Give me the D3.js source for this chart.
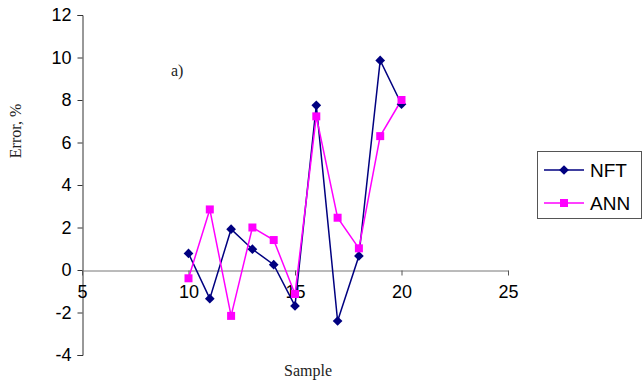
<!DOCTYPE html>
<html>
<head>
<meta charset="utf-8">
<script src="https://cdn.jsdelivr.net/npm/d3@7"></script>
<style>
    body { margin: 0; background: #fff; }
    svg { display: block; }
</style>
</head>
<body>
<div id="chart"></div>
<script>
// Error per sample, two methods
const samples = [10, 11, 12, 13, 14, 15, 16, 17, 18, 19, 20];
const nftValues = [0.78, -1.35, 1.92, 0.98, 0.25, -1.69, 7.75, -2.4, 0.66, 9.86, 7.8];
const annValues = [-0.39, 2.85, -2.16, 2.0, 1.41, -1.13, 7.23, 2.46, 1.02, 6.3, 8.0];
const xTicks = [5, 10, 15, 20, 25];
const yTicks = [-4, -2, 0, 2, 4, 6, 8, 10, 12];
const seriesNames = ['NFT', 'ANN'];

const width = 642, height = 383;
const sans = 'Liberation Sans, Arial, sans-serif';
const serif = 'Liberation Serif, Times New Roman, serif';
const fmt = d => String(d); // plain hyphen for negatives, like the original

const svg = d3.select('#chart')
    .append('svg')
    .attr('width', width)
    .attr('height', height);

// Scales
const x = d3.scaleLinear().domain([5, 25]).range([82, 508]);
const y = d3.scaleLinear().domain([-4, 12]).range([355, 15]);

// Y axis
const yAxis = svg.append('g')
    .attr('transform', 'translate(82.5,0)')
    .call(d3.axisLeft(y).tickValues(yTicks).tickSize(5).tickPadding(6).tickFormat(fmt));
yAxis.select('.domain').attr('stroke', '#333');
yAxis.selectAll('.tick line').attr('stroke', '#333');
yAxis.selectAll('text')
    .attr('font-family', sans)
    .attr('font-size', '18px')
    .attr('fill', '#000');

// X axis sits on zero line
const xAxis = svg.append('g')
    .attr('transform', `translate(0,${Math.round(y(0)) + 0.5})`)
    .call(d3.axisBottom(x).tickValues(xTicks).tickSize(5).tickPadding(10).tickSizeOuter(0).tickFormat(fmt));
xAxis.select('.domain').attr('stroke', '#777');
xAxis.selectAll('.tick line').attr('stroke', '#555');
xAxis.selectAll('text')
    .attr('font-family', sans)
    .attr('font-size', '18px')
    .attr('fill', '#000');

// Lines
const line = d3.line()
    .x((d, i) => x(samples[i]))
    .y(d => y(d));

svg.append('path')
    .datum(nftValues)
    .attr('d', line)
    .attr('fill', 'none')
    .attr('stroke', '#000080')
    .attr('stroke-width', 1.5);

svg.append('path')
    .datum(annValues)
    .attr('d', line)
    .attr('fill', 'none')
    .attr('stroke', '#ff00ff')
    .attr('stroke-width', 1.5);

const diamond = d3.symbol().type(d3.symbolDiamond2).size(60);
const square = d3.symbol().type(d3.symbolSquare).size(64);

svg.append('g')
    .selectAll('path')
    .data(nftValues)
    .enter()
    .append('path')
    .attr('d', diamond)
    .attr('transform', (d, i) => `translate(${x(samples[i])},${y(d)})`)
    .attr('fill', '#000080');

svg.append('g')
    .selectAll('path')
    .data(annValues)
    .enter()
    .append('path')
    .attr('d', square)
    .attr('transform', (d, i) => `translate(${x(samples[i])},${y(d)})`)
    .attr('fill', '#ff00ff');

// Labels
svg.append('text')
    .attr('x', 171)
    .attr('y', 76)
    .attr('font-family', serif)
    .attr('font-size', '16px')
    .attr('fill', '#222')
    .text('a)');

svg.append('text')
    .attr('transform', 'translate(21,131) rotate(-90)')
    .attr('text-anchor', 'middle')
    .attr('font-family', serif)
    .attr('font-size', '16px')
    .attr('fill', '#222')
    .text('Error, %');

svg.append('text')
    .attr('x', 308)
    .attr('y', 376)
    .attr('text-anchor', 'middle')
    .attr('font-family', serif)
    .attr('font-size', '16px')
    .attr('fill', '#222')
    .text('Sample');

// Legend
const legend = svg.append('g').attr('class', 'legend');
legend.append('rect')
    .attr('x', 537.5)
    .attr('y', 151.5)
    .attr('width', 104)
    .attr('height', 67)
    .attr('fill', '#fff')
    .attr('stroke', '#555');

const legendItems = legend.selectAll('.legend-item')
    .data(seriesNames)
    .enter()
    .append('g')
    .attr('class', 'legend-item')
    .attr('transform', (d, i) => `translate(0,${170 + i * 33})`);

legendItems.append('line')
    .attr('x1', 544)
    .attr('x2', 584)
    .attr('stroke', (d, i) => i === 0 ? '#000080' : '#ff00ff')
    .attr('stroke-width', 1.5);

legendItems.append('path')
    .attr('d', (d, i) => i === 0 ? diamond() : square())
    .attr('transform', 'translate(564,0)')
    .attr('fill', (d, i) => i === 0 ? '#000080' : '#ff00ff');

legendItems.append('text')
    .attr('x', 590)
    .attr('dy', '0.35em')
    .attr('font-family', sans)
    .attr('font-size', '19px')
    .text(d => d);
</script>
</body>
</html>
